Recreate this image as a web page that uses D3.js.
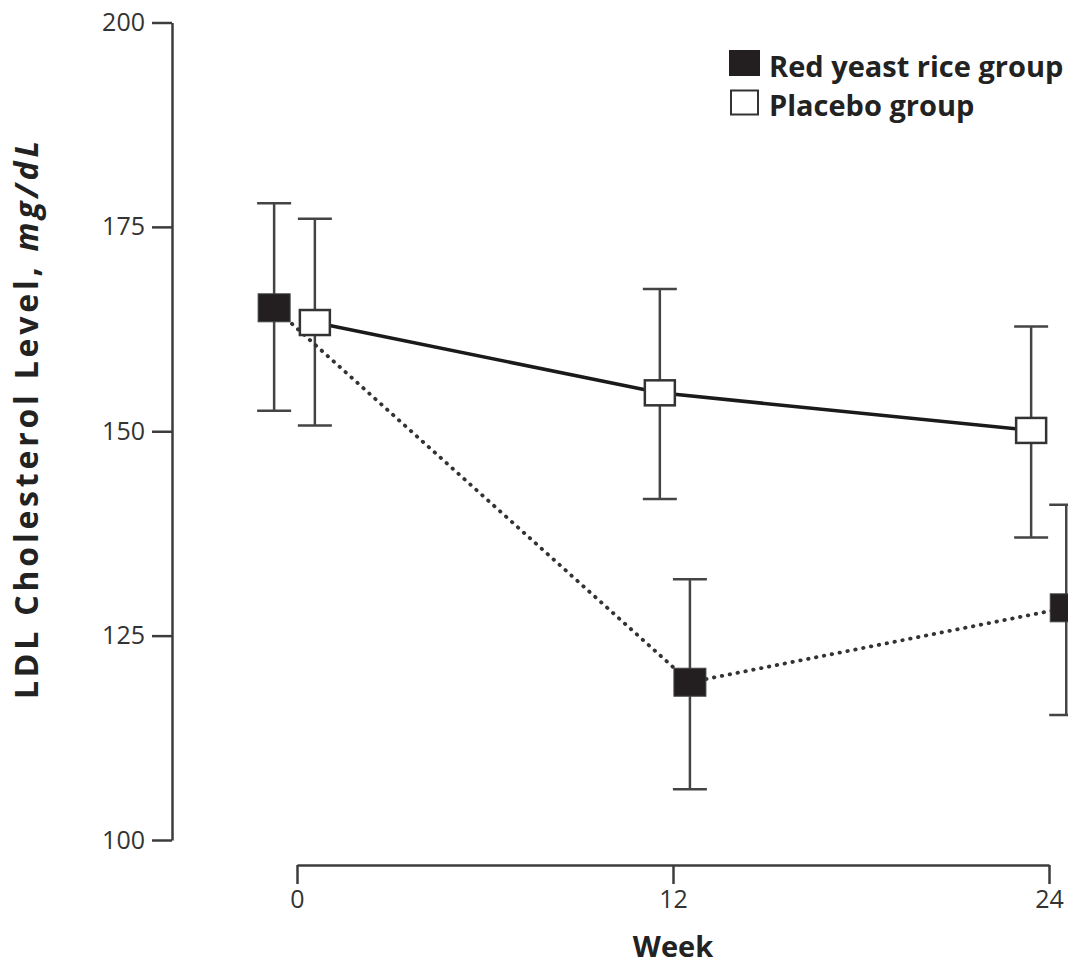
<!DOCTYPE html>
<html>
<head>
<meta charset="utf-8">
<script src="https://cdn.jsdelivr.net/npm/d3@7"></script>
<style>
	body { margin: 0; background: #fff; }
	svg { display: block; font-family: 'Open Sans', sans-serif; }
</style>
</head>
<body>
<div class="canvas"></div>
<script>
// data
const weeks = [0, 12, 24];
const redMean = [165.1, 119.3, 128.4];
const redUpper = [177.9, 131.9, 141.0];
const redLower = [152.5, 106.2, 115.3];
const placeboMean = [163.3, 154.7, 150.1];
const placeboUpper = [176.0, 167.4, 162.8];
const placeboLower = [150.7, 141.7, 137.0];
const yTicks = [100, 125, 150, 175, 200];
const xTicks = [0, 12, 24];

// horizontal dodge of each group (weeks)
const redDodge = [-0.73, 0.54, 0.55];
const placeboDodge = [0.57, -0.42, -0.57];

const svg = d3
	.select('.canvas')
	.append('svg')
	.attr('width', 1068)
	.attr('height', 964);

const x = d3.scaleLinear().domain([0, 24]).range([297, 1049]);
const y = d3.scaleLinear().domain([100, 200]).range([840, 22.5]);

const axisColour = '#3c3c3c';

// osi
const yAxis = d3.axisLeft(y).tickValues(yTicks).tickSize(20).tickSizeOuter(0).tickPadding(7);
const xAxis = d3.axisBottom(x).tickValues(xTicks).tickSize(19).tickSizeOuter(0).tickPadding(6);

const yAxisGroup = svg.append('g').attr('transform', 'translate(172, 0)').call(yAxis);
const xAxisGroup = svg.append('g').attr('transform', 'translate(0, 865)').call(xAxis);

[yAxisGroup, xAxisGroup].forEach(g => {
	g.selectAll('path, line').attr('stroke', axisColour).attr('stroke-width', 2.5);
	g.selectAll('text')
		.attr('fill', '#333')
		.style('font-size', '25px')
		.style('font-family', "'Open Sans', sans-serif");
});

// naslovi osi
svg.append('text')
	.attr('x', 673)
	.attr('y', 957)
	.attr('text-anchor', 'middle')
	.attr('fill', '#222')
	.style('font-size', '29px')
	.style('font-weight', 'bold')
	.text('Week');

const yTitle = svg.append('text')
	.attr('transform', 'translate(38, 420) rotate(-90)')
	.attr('text-anchor', 'middle')
	.attr('textLength', 558)
	.attr('lengthAdjust', 'spacing')
	.attr('fill', '#222')
	.style('font-size', '32px')
	.style('font-weight', 'bold');
yTitle.append('tspan').text('LDL Cholesterol Level, ');
yTitle.append('tspan').style('font-style', 'italic').text('mg/dL');

// pripremanje serija
const series = [
	{ name: 'red', mean: redMean, upper: redUpper, lower: redLower, dodge: redDodge },
	{ name: 'placebo', mean: placeboMean, upper: placeboUpper, lower: placeboLower, dodge: placeboDodge }
].map(s => ({
	...s,
	points: weeks.map((w, i) => ({ wx: w + s.dodge[i], m: s.mean[i], hi: s.upper[i], lo: s.lower[i] }))
}));

const capHalf = 17;

// error bars
series.forEach(s => {
	const g = svg.append('g').attr('stroke', '#444').attr('stroke-width', 2.5);
	g.selectAll('line.v').data(s.points).enter().append('line')
		.attr('x1', d => x(d.wx)).attr('x2', d => x(d.wx))
		.attr('y1', d => y(d.hi)).attr('y2', d => y(d.lo));
	g.selectAll('line.top').data(s.points).enter().append('line')
		.attr('x1', d => x(d.wx) - capHalf).attr('x2', d => x(d.wx) + capHalf)
		.attr('y1', d => y(d.hi)).attr('y2', d => y(d.hi));
	g.selectAll('line.bot').data(s.points).enter().append('line')
		.attr('x1', d => x(d.wx) - capHalf).attr('x2', d => x(d.wx) + capHalf)
		.attr('y1', d => y(d.lo)).attr('y2', d => y(d.lo));
});

// linije
const line = d3.line().x(d => x(d.wx)).y(d => y(d.m));

svg.append('path')
	.datum(series[0].points)
	.attr('d', line)
	.attr('fill', 'none')
	.attr('stroke', '#333')
	.attr('stroke-width', 3.8)
	.attr('stroke-linecap', 'round')
	.attr('stroke-dasharray', '0.5 7.5');

svg.append('path')
	.datum(series[1].points)
	.attr('d', line)
	.attr('fill', 'none')
	.attr('stroke', '#1a1a1a')
	.attr('stroke-width', 3.5);

// markeri
svg.selectAll('rect.red').data(series[0].points).enter().append('rect')
	.attr('x', d => x(d.wx) - 16).attr('y', d => y(d.m) - 14)
	.attr('width', 32).attr('height', 28)
	.attr('fill', '#231f20')
	.attr('stroke', '#444').attr('stroke-width', 1);

svg.selectAll('rect.placebo').data(series[1].points).enter().append('rect')
	.attr('x', d => x(d.wx) - 15).attr('y', d => y(d.m) - 12.5)
	.attr('width', 30).attr('height', 25)
	.attr('fill', '#fff')
	.attr('stroke', '#333').attr('stroke-width', 2.5);

// legenda
const legend = svg.append('g');
legend.append('rect')
	.attr('x', 729).attr('y', 50).attr('width', 31).attr('height', 26)
	.attr('fill', '#231f20');
legend.append('rect')
	.attr('x', 731).attr('y', 90.5).attr('width', 27).attr('height', 24)
	.attr('fill', '#fff').attr('stroke', '#333').attr('stroke-width', 2);
legend.append('text')
	.attr('x', 769).attr('y', 77)
	.attr('fill', '#222')
	.style('font-size', '29px').style('font-weight', 'bold')
	.text('Red yeast rice group');
legend.append('text')
	.attr('x', 769).attr('y', 116)
	.attr('fill', '#222')
	.style('font-size', '29px').style('font-weight', 'bold')
	.text('Placebo group');
</script>
</body>
</html>
